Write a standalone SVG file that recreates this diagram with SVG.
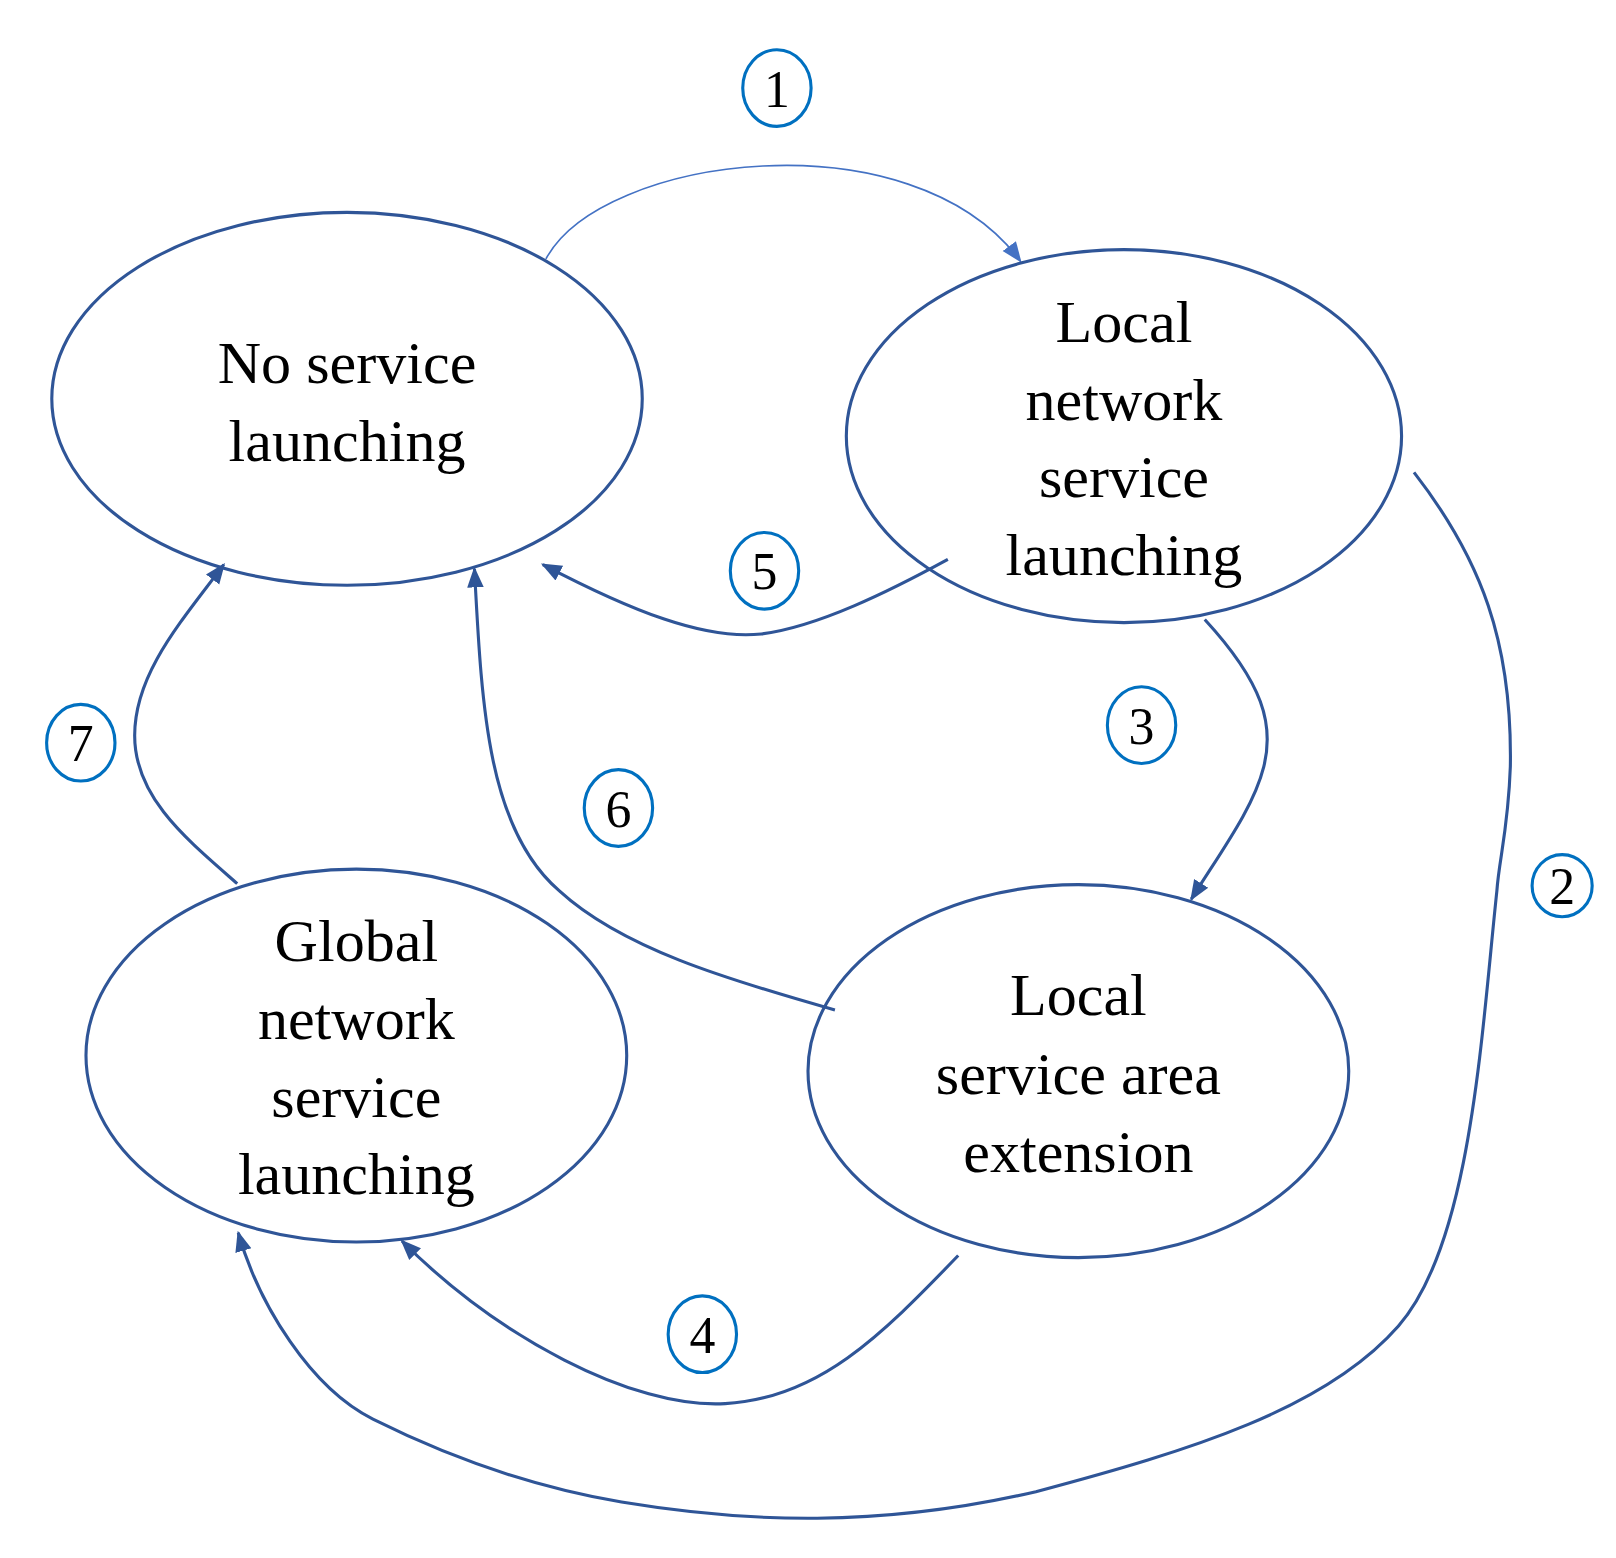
<svg xmlns="http://www.w3.org/2000/svg" width="1616" height="1558" viewBox="0 0 1616 1558">
<style>
.node{fill:none;stroke:#2F5597;stroke-width:3}
.lbl{font-family:"Liberation Serif",serif;font-size:58px;fill:#000;text-anchor:middle}
.num{fill:none;stroke:#0070C0;stroke-width:3}
.numt{font-family:"Liberation Serif",serif;font-size:50px;fill:#000;text-anchor:middle}
.edge{fill:none;stroke:#2F5597;stroke-width:3}
</style>
<defs>
<marker id="ah" markerUnits="userSpaceOnUse" markerWidth="20" markerHeight="20" viewBox="0 0 20 20" refX="18" refY="10" orient="auto"><path d="M0,2 L20,10 L0,18 Z" fill="#2F5597"/></marker>
<marker id="ah1" markerUnits="userSpaceOnUse" markerWidth="20" markerHeight="20" viewBox="0 0 20 20" refX="18" refY="10" orient="auto"><path d="M0,2 L20,10 L0,18 Z" fill="#4472C4"/></marker>
</defs>
<rect width="1616" height="1558" fill="#fff"/>
<g transform="scale(1.0359)">
<g id="edges">
<path class="edge" style="stroke:#4472C4;stroke-width:1.6" marker-end="url(#ah1)" d="M527,250 C580,150 880,110 985,252"/>
<path class="edge" marker-end="url(#ah)" d="M1365,456 C1430,540 1460,620 1458,740 C1456,800 1447,830 1445,860 C1430,1000 1420,1200 1350,1280 C1280,1360 1150,1400 1000,1440 C850,1475 720,1470 600,1450 C500,1433 420,1400 360,1370 C300,1340 250,1260 230,1190"/>
<path class="edge" marker-end="url(#ah)" d="M1163,598 C1220,660 1230,700 1220,740 C1210,780 1180,820 1150,868"/>
<path class="edge" marker-end="url(#ah)" d="M925,1212 C850,1290 790,1350 700,1355 C610,1360 480,1290 388,1198"/>
<path class="edge" marker-end="url(#ah)" d="M915,540 C860,570 790,605 735,612 C680,618 610,590 524,545"/>
<path class="edge" marker-end="url(#ah)" d="M806,975 C700,945 600,915 540,860 C470,800 465,680 458,549"/>
<path class="edge" marker-end="url(#ah)" d="M229,853 C180,810 130,770 130,710 C130,650 175,600 216,545"/>
</g>
<g id="n1"><ellipse class="node" cx="335" cy="385" rx="285" ry="180"/><text class="lbl" x="335" y="370">No service</text><text class="lbl" x="335" y="445">launching</text></g>
<g id="n2"><ellipse class="node" cx="1085" cy="421" rx="268" ry="180"/><text class="lbl" x="1085" y="330">Local</text><text class="lbl" x="1085" y="405">network</text><text class="lbl" x="1085" y="480">service</text><text class="lbl" x="1085" y="555">launching</text></g>
<g id="n3"><ellipse class="node" cx="344" cy="1019" rx="261" ry="180"/><text class="lbl" x="344" y="928">Global</text><text class="lbl" x="344" y="1003">network</text><text class="lbl" x="344" y="1078">service</text><text class="lbl" x="344" y="1153">launching</text></g>
<g id="n4"><ellipse class="node" cx="1041" cy="1034" rx="261" ry="180"/><text class="lbl" x="1041" y="980">Local</text><text class="lbl" x="1041" y="1056">service area</text><text class="lbl" x="1041" y="1131">extension</text></g>
<g id="labels">
<g><ellipse class="num" cx="750" cy="85" rx="33" ry="37"/><text class="numt" x="750" y="103">1</text></g>
<g><ellipse class="num" cx="1508" cy="855" rx="29" ry="30"/><text class="numt" x="1508" y="873">2</text></g>
<g><ellipse class="num" cx="1102" cy="700" rx="33" ry="37"/><text class="numt" x="1102" y="718">3</text></g>
<g><ellipse class="num" cx="678" cy="1288" rx="33" ry="37"/><text class="numt" x="678" y="1306">4</text></g>
<g><ellipse class="num" cx="738" cy="551" rx="33" ry="37"/><text class="numt" x="738" y="569">5</text></g>
<g><ellipse class="num" cx="597" cy="780" rx="33" ry="37"/><text class="numt" x="597" y="798">6</text></g>
<g><ellipse class="num" cx="78" cy="717" rx="33" ry="37"/><text class="numt" x="78" y="735">7</text></g>
</g>
</g>
</svg>
